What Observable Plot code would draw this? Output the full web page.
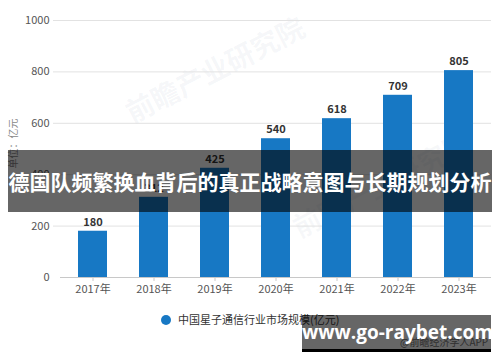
<!DOCTYPE html>
<html><head><meta charset="utf-8">
<script src="https://cdn.jsdelivr.net/npm/d3@7"></script>
<script src="https://cdn.jsdelivr.net/npm/@observablehq/plot@0.6"></script>
<style>
body{margin:0;background:#fff;font-family:"Noto Sans CJK SC","Noto Sans",sans-serif;}
#wrap{position:relative;width:500px;height:362px;overflow:hidden;background:#fff;}
#wrap svg{position:absolute;left:0;top:0;}
.abs{position:absolute;white-space:nowrap;}
</style></head><body><div id="wrap"></div>
<script>
const years = ["2017年","2018年","2019年","2020年","2021年","2022年","2023年"];
const values = [180, 312, 425, 540, 618, 709, 805];
const yTicks = [0, 200, 400, 600, 800, 1000];
const seriesName = "中国星子通信行业市场规模(亿元)";
const yUnit = "单位：亿元";
const bannerTitle = "德国队频繁换血背后的真正战略意图与长期规划分析";
const siteText = "www.go-raybet.com";
const sourceText = "@前瞻经济学人APP";
const watermark = "前瞻产业研究院";

const data = years.map((y, i) => ({year: y, value: values[i]}));
const font = '"Noto Sans CJK SC","Microsoft YaHei",sans-serif';

const chart = Plot.plot({
  width: 500, height: 362,
  marginTop: 20, marginBottom: 85, marginLeft: 60, marginRight: 9,
  style: {fontFamily: font, fontSize: "11px", background: "transparent"},
  x: {domain: years, paddingInner: 0.53, paddingOuter: 0.27},
  y: {domain: [0, 1000]},
  marks: [
    Plot.ruleY(yTicks.filter(d => d > 0), {stroke: "#e2e2e2", insetLeft: -7}),
    Plot.barY(data, {x: "year", y: "value", fill: "#1778c4"}),
    Plot.ruleY([0], {stroke: "#c8c8c8"}),
    Plot.axisX({tickSize: 4, tickPadding: 4, stroke: "#c8c8c8", fill: "#555", label: null, fontSize: 11}),
    Plot.axisY({ticks: yTicks, tickFormat: d => String(d), tickSize: 0, tickPadding: 11, fill: "#555", label: null, fontSize: 11}),
    Plot.text(data, {x: "year", y: "value", text: d => String(d.value), dy: -9, fontWeight: "bold", fill: "#333", fontSize: 11})
  ]
});
const wrap = document.getElementById("wrap");

function addDiv(html, css) {
  const d = document.createElement("div");
  d.className = "abs";
  d.innerHTML = html;
  d.style.cssText += css;
  wrap.appendChild(d);
  return d;
}
// faint watermarks (behind chart)
addDiv(watermark, `left:118px;top:95px;font-size:28px;font-weight:bold;color:rgba(120,135,165,0.07);transform:rotate(-27deg);transform-origin:left top;`);
addDiv(watermark, `left:285px;top:210px;font-size:28px;font-weight:bold;color:rgba(120,135,165,0.06);transform:rotate(-27deg);transform-origin:left top;`);
wrap.appendChild(chart);

// y unit label
addDiv(yUnit, `left:-13px;top:136px;width:50px;text-align:center;font-size:10px;color:#888;transform:rotate(-90deg);`);

// legend
addDiv(`<span style="display:inline-block;width:10px;height:10px;border-radius:50%;background:#1778c4;vertical-align:-1px;margin-right:7px"></span>${seriesName}`,
  `left:161px;top:311px;font-size:11px;color:#333;line-height:16px;`);

// source text (mostly hidden behind the site box)
addDiv(sourceText, `left:400px;top:334px;font-size:10px;color:#777;`);

// banner
addDiv(bannerTitle, `left:8px;top:150px;width:484px;height:62px;line-height:62px;text-align:center;background:rgba(0,0,0,0.6);color:#fff;font-size:21px;font-weight:bold;`);

// site box
addDiv(siteText, `left:302px;top:315px;width:189px;height:34px;line-height:34px;text-align:center;background:rgba(0,0,0,0.6);border-bottom:3px solid #000;color:#fff;font-size:19px;font-weight:bold;font-family:"Open Sans",sans-serif;`);
</script>
</body></html>
